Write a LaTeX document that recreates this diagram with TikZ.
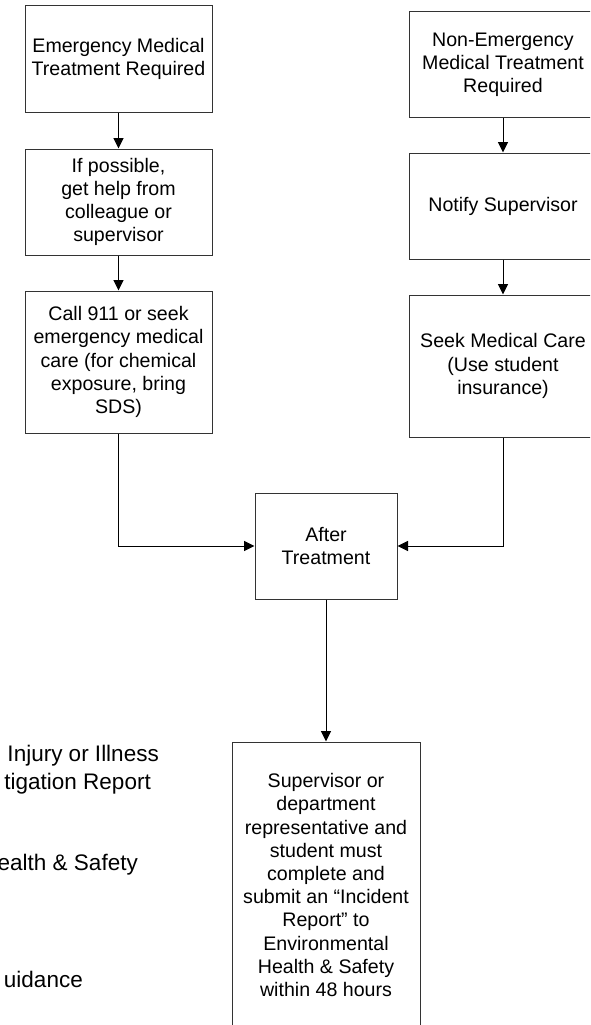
\documentclass[tikz,border=0pt]{standalone}
\usepackage{fontspec}
\setmainfont{Liberation Sans}
\usetikzlibrary{arrows.meta}
\usetikzlibrary{positioning}
\tikzstyle{block} = [rectangle, draw=black!80, line width=1pt, inner sep=0pt, minimum width=187pt, align=center, font=\fontsize{19.6}{23.2}\selectfont]
\tikzstyle{line} = [draw, line width=1pt, -{Triangle[length=10.5pt,width=10pt]}]
\tikzstyle{cut} = [inner sep=0pt, anchor=base east, font=\fontsize{22.5}{27}\selectfont]

\begin{document}
\begin{tikzpicture}[x=1pt, y=-1pt]
   \useasboundingbox (0,0) rectangle (590,1025);
   \clip (0,0) rectangle (590,1025);
   % Place nodes
   \node [block, minimum height=106pt] (1) at (118.5,59) {Emergency Medical \\ Treatment Required};
   \node [block, minimum height=106pt, below = 36pt of 1] (2) {If possible, \\ get help from \\ colleague or \\ supervisor};
   \node [block, minimum height=142pt, below = 35pt of 2] (3) {Call 911 or seek \\ emergency medical \\ care (for chemical \\ exposure, bring \\ SDS)};

   \node [block, minimum height=105pt] (4) at (503,64.5) {Non-Emergency \\ Medical Treatment \\ Required};
   \node [block, minimum height=106pt, below = 35pt of 4] (5) {Notify Supervisor};
   \node [block, minimum height=142pt, below = 35pt of 5] (6) {Seek Medical Care \\ (Use student \\ insurance)};

   \node [block, minimum width=142pt, minimum height=106pt] (7) at (326,546) {After \\ Treatment};
   \node [block, minimum width=188pt, minimum height=286pt, below = 142pt of 7] (8) {Supervisor or \\ department \\ representative and \\ student must \\ complete and \\ submit an “Incident \\ Report” to \\ Environmental \\ Health \& Safety \\ within 48 hours};

   % cut off text on the left
   \node [cut] (9) at (159,761) {Injury or Illness};
   \node [cut] (9-b) at (151,789) {tigation Report};
   \node [cut] (10) at (138,870) {ealth \& Safety};
   \node [cut] (11) at (83,987) {uidance};

   \draw[line] (1) -- (2);
   \draw[line] (2) -- (3);
   \draw[line] (4) -- (5);
   \draw[line] (5) -- (6);
   \draw[line] (3.south) |- (7.west);
   \draw[line] (6.south) |- (7.east);
   \draw[line] (7) -- (8);
\end{tikzpicture}
\end{document}
